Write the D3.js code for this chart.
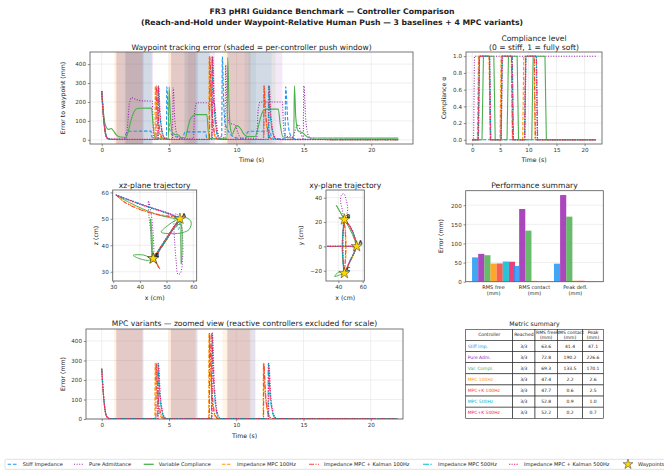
<!DOCTYPE html>
<html>
<head>
<meta charset="utf-8">
<script src="https://d3js.org/d3.v7.min.js"></script>
<style>
body { margin: 0; background: #fff; }
svg text { font-family: "DejaVu Sans", sans-serif; }
</style>
</head>
<body>
<script>
// ---- controllers ----
var names = ["Stiff Impedance", "Pure Admittance", "Variable Compliance", "Impedance MPC 100Hz",
  "Impedance MPC + Kalman 100Hz", "Impedance MPC 500Hz", "Impedance MPC + Kalman 500Hz"];
var shortNames = ["Stiff Imp.", "Pure Adm.", "Var. Compl.", "MPC 100Hz", "MPC+K 100Hz", "MPC 500Hz", "MPC+K 500Hz"];
var colors = ["#2196F3", "#9C27B0", "#4CAF50", "#FF9800", "#F44336", "#00BCD4", "#E91E63"];
var dashes = ["3.5,1.8", "1,1.6", null, "3.5,1.5", "5,1.4,1.2,1.4", "6,1.4,1.4,1.4", "1.2,1.3"];

// ---- tracking error (t s, mm) ----
var errStiff = [[0,258],[0.15,120],[0.3,30],[0.45,8],[0.7,3],[1.7,3],[1.78,30],[1.95,45],[3.65,46],[3.75,10],[3.9,4],[4.8,4],[4.83,280],[4.95,120],[5.1,40],[5.3,22],[5.6,15],[6.0,10],[6.15,38],[6.3,42],[7.7,42],[7.8,8],[8.9,5],[8.95,440],[9.05,200],[9.15,90],[9.3,60],[9.5,35],[9.8,15],[10.2,8],[10.7,8],[10.8,40],[11.0,45],[12.5,45],[12.6,10],[13.6,5],[13.65,280],[13.8,110],[13.95,35],[14.2,10],[14.5,3],[22,2]];
var errPure = [[0,258],[0.15,110],[0.3,25],[0.45,6],[1.8,4],[1.9,60],[2.05,190],[2.2,222],[2.6,212],[3.0,206],[3.75,205],[3.85,10],[4.0,4],[5.25,4],[5.3,275],[5.42,110],[5.55,35],[5.75,10],[6.0,5],[6.8,5],[6.9,150],[7.05,196],[7.9,196],[8.0,150],[8.05,300],[8.2,200],[8.35,195],[8.5,100],[8.7,20],[9.15,10],[9.2,395],[9.3,150],[9.45,90],[9.6,85],[9.9,80],[10.1,40],[10.3,10],[11.5,8],[11.6,150],[11.75,200],[13.4,200],[13.5,60],[13.6,20],[14.2,15],[14.4,60],[14.6,80],[14.75,40],[14.95,8],[15.0,285],[15.15,100],[15.3,30],[15.5,8],[16,3],[22,2]];
var errVar = [[0,258],[0.2,100],[0.35,65],[0.5,55],[0.7,60],[0.85,50],[1.1,25],[1.4,15],[1.8,14],[1.95,40],[2.2,110],[2.45,155],[2.7,167],[3.7,168],[3.8,90],[3.95,12],[4.2,8],[4.95,8],[5.0,280],[5.1,120],[5.25,35],[5.45,28],[5.7,25],[5.9,12],[6.2,10],[6.35,50],[6.55,105],[6.8,128],[7.0,133],[7.8,134],[7.9,50],[8.0,6],[9.3,5],[9.35,435],[9.45,180],[9.55,60],[9.7,30],[9.85,55],[10.05,75],[10.3,60],[10.55,30],[10.8,18],[11.4,18],[11.55,50],[11.8,120],[12.0,155],[12.3,162],[13.1,162],[13.25,80],[13.45,15],[14.25,10],[14.3,285],[14.4,120],[14.55,50],[14.7,42],[14.9,38],[15.1,25],[15.3,14],[15.6,10],[22,9]];
var errMpc100 = [[0,258],[0.12,130],[0.25,45],[0.4,10],[0.6,2],[3.95,2],[3.97,285],[4.1,130],[4.25,45],[4.4,12],[4.6,2],[7.95,2],[7.97,440],[8.1,200],[8.25,70],[8.4,18],[8.6,2],[12.0,2],[12.02,285],[12.15,130],[12.3,45],[12.45,12],[12.65,2],[22,1]];
var errMpcK100 = [[0,258],[0.12,128],[0.25,44],[0.4,10],[0.6,2],[4.03,2],[4.05,285],[4.18,130],[4.33,45],[4.48,12],[4.68,2],[8.0,2],[8.02,440],[8.15,200],[8.3,70],[8.45,18],[8.65,2],[12.03,2],[12.05,285],[12.18,130],[12.33,45],[12.48,12],[12.68,2],[22,1]];
var errMpc500 = [[0,258],[0.12,132],[0.25,46],[0.4,10],[0.6,2],[4.16,2],[4.18,285],[4.31,130],[4.46,45],[4.61,12],[4.81,2],[8.16,2],[8.18,440],[8.31,200],[8.46,70],[8.61,18],[8.81,2],[12.36,2],[12.38,285],[12.51,130],[12.66,45],[12.81,12],[13.0,2],[22,1]];
var errMpcK500 = [[0,258],[0.12,131],[0.25,45],[0.4,10],[0.6,2],[4.19,2],[4.21,285],[4.34,130],[4.49,45],[4.64,12],[4.84,2],[8.2,2],[8.22,440],[8.35,200],[8.5,70],[8.65,18],[8.85,2],[12.4,2],[12.42,285],[12.55,130],[12.7,45],[12.85,12],[13.05,2],[22,1]];

// ---- compliance level alpha ----
var compStiff = [[0,0],[22,0]];
var compPure = [[0,0],[0.25,0],[0.4,1],[22,1]];
var compVar = [[0,0],[1.75,0],[2.0,1],[3.85,1],[4.1,0],[6.2,0],[6.45,1],[8.0,1],[8.25,0],[10.6,0],[10.85,1],[12.95,1],[13.2,0],[22,0]];
var compMpc100 = [[0,0],[0.92,0],[1.12,1],[3.0,1],[3.2,0],[4.95,0],[5.15,1],[6.95,1],[7.15,0],[8.98,0],[9.18,1],[11.0,1],[11.2,0],[22,0]];
var compMpcK100 = [[0,0],[1.05,0],[1.25,1],[3.05,1],[3.25,0],[5.1,0],[5.3,1],[7.0,1],[7.2,0],[9.3,0],[9.5,1],[11.05,1],[11.25,0],[22,0]];
var compMpc500 = [[0,0],[1.1,0],[1.3,1],[3.1,1],[3.3,0],[5.15,0],[5.35,1],[7.15,1],[7.35,0],[9.35,0],[9.55,1],[11.45,1],[11.65,0],[22,0]];
var compMpcK500 = [[0,0],[1.1,0],[1.3,1],[3.1,1],[3.3,0],[5.15,0],[5.35,1],[7.1,1],[7.3,0],[9.35,0],[9.55,1],[11.4,1],[11.6,0],[22,0]];

// ---- push windows (s) ----
var pushStiff = [[1.7,3.7],[6.1,8.0],[10.6,12.6]];
var pushPure = [[1.8,3.8],[6.4,8.4],[11.4,13.4]];
var pushVar = [[1.75,3.75],[6.2,8.0],[10.9,12.9]];
var pushMpc100 = [[0.92,3.0],[4.95,6.95],[8.98,11.0]];
var pushMpcK100 = [[1.05,3.05],[5.1,7.0],[9.3,11.05]];
var pushMpc500 = [[1.1,3.1],[5.15,7.15],[9.35,11.45]];
var pushMpcK500 = [[1.1,3.1],[5.15,7.1],[9.35,11.4]];

// ---- trajectories (cm) ----
var xzStiff = [[31,59],[35,57.5],[40,55.6],[45,53.9],[50,52.1],[53,51],[55,50],[53.8,47],[54.5,46],[55,50],[53,46.8],[50.5,43],[48,39],[46,36],[45,35],[44,33.8],[45.8,34.5],[45,35],[47,38.2],[49.5,42],[52,45.8],[54,48.6],[55,50]];
var xzPure = [[31,59],[35,57.6],[40,55.8],[45,54],[50,52.5],[53,51.3],[55,50],[53.5,52],[52.8,49],[53,42],[53.6,34],[54.3,29],[55.2,29.5],[56,35],[56,43],[55,50],[52.5,46],[50,42],[47.5,38.5],[45,35],[44.3,43],[43.4,51],[43.2,56.8],[44.2,52],[45,44],[45.2,36],[45,35],[47,38],[49.5,42],[52,46],[55,50]];
var xzVar = [[31,59],[36,56.2],[41,53.8],[46,51.8],[51,50.5],[55,50],[57.5,50.4],[59.2,48.8],[58.5,46],[56,44.8],[52,44.4],[48,45],[50.5,47.5],[53.5,49.5],[55,50],[55.3,42],[55.5,33],[55.8,40],[55.2,48],[52.5,46],[50,42],[47.5,38.5],[45,35],[41.5,36.3],[37.5,36.2],[40,34.9],[44,34.6],[44.2,42],[44,50],[44.6,43],[45,35],[47,38],[49.5,42],[52,46],[55,50]];
var xzMpc100 = [[31,59],[34,56.6],[38,54.6],[42,53],[46,51.9],[50,51.2],[53.5,50.8],[55,50],[53,47],[50.5,43],[48,39],[46,36],[45,35],[46.2,33],[47.3,31.3],[46.3,33.5],[45,35],[47,38.2],[49.5,42],[52,45.8],[54,48.6],[55,50]];
var xzMpcK100 = [[31,59],[34,56.4],[38,54.3],[42,52.8],[46,51.7],[50,51],[53.5,50.7],[55,50],[52.8,46.8],[50.3,42.8],[47.8,38.8],[45.8,35.8],[45,35],[46.3,32.8],[47.5,31],[46.2,33.4],[45,35],[46.8,38],[49.3,41.8],[51.8,45.6],[54,48.8],[55,50]];
var xzMpc500 = [[31,59],[35,57.5],[40,55.6],[45,54],[50,52.3],[53,51.1],[55,50],[53,47],[50.5,43.2],[48,39.3],[46,36.2],[45,35],[44,34],[45,35],[47,38],[49.5,41.8],[52,45.6],[54,48.5],[55,50]];
var xzMpcK500 = [[31,59],[35,57.4],[40,55.5],[45,53.8],[50,52.2],[53,51],[55,50],[53.1,47.2],[50.6,43.3],[48.1,39.4],[46.1,36.3],[45,35],[44.2,34.2],[45,35],[47.1,38.1],[49.6,41.9],[52.1,45.7],[54,48.6],[55,50]];

var xyStiff = [[31,0],[40,0],[50,0],[55,0],[53.8,6],[51.8,12],[48.8,17.5],[45,22],[44,14],[43.5,5],[43.5,-5],[44,-14],[45,-22],[47,-18],[50,-11],[53,-5],[55,0]];
var xyPure = [[31,0],[40,0],[50,0],[55,0],[53.8,6],[51.8,12],[48.8,17.5],[45,22],[43.3,30],[41.8,37.5],[42.5,42],[44.5,43.2],[46.5,38],[47.7,31],[46.5,25],[45,22],[44,14],[43.3,5],[43.3,-5],[44,-14],[45,-22],[47,-18],[50,-11],[53,-5],[55,0]];
var xyVar = [[31,0],[40,0],[50,0],[57,0],[55,0],[53.5,5],[51.5,10],[49,15],[46.5,19.5],[45,22],[42,27.5],[38.3,33.8],[40.5,30],[43.5,24.5],[45,22],[44,14],[43.3,5],[43.3,-5],[44,-14],[45,-22],[41,-23.5],[37,-24.8],[40.5,-21],[43.5,-22],[45,-22],[48,-16],[51,-10],[53.5,-4.5],[55,0]];
var xyMpc100 = [[31,0],[40,0],[50,0],[55,0],[53.6,6],[51.5,12],[48.6,17.5],[45,22],[45.8,14],[46.3,5],[46.3,-5],[45.8,-14],[45,-22],[47,-18],[50,-11],[53,-5],[55,0]];
var xyMpcK100 = [[31,0],[40,0],[50,0],[55,0],[53.7,6],[51.6,12],[48.7,17.5],[45,22],[45.5,14],[46,5],[46,-5],[45.5,-14],[45,-22],[47.2,-18],[50.2,-11],[53.1,-5],[55,0]];
var xyMpc500 = [[31,0],[40,0],[50,0],[55,0],[53.9,6],[51.9,12],[48.9,17.5],[45,22],[44,14],[43.6,5],[43.6,-5],[44,-14],[45,-22],[47,-18],[50,-11],[53,-5],[55,0]];
var xyMpcK500 = [[31,0],[40,0],[50,0],[55,0],[53.9,6],[51.9,12],[48.9,17.5],[45,22],[44.2,14],[43.8,5],[43.8,-5],[44.2,-14],[45,-22],[46.9,-18],[49.9,-11],[52.9,-5],[55,0]];

var wpLabel = ["A", "B", "C"];
var wpX = [55, 45, 45];
var wpY = [0, 22, -22];
var wpZ = [50, 35, 35];

// ---- performance metrics ----
var metricNames = ["RMS free\n(mm)", "RMS contact\n(mm)", "Peak defl.\n(mm)"];
var rmsFree = [63.6, 72.8, 69.3, 47.4, 47.7, 52.8, 52.2];
var rmsContact = [41.4, 190.2, 133.5, 2.2, 0.6, 0.9, 0.2];
var peakDefl = [47.1, 226.6, 170.1, 2.6, 2.5, 1.0, 0.7];
var reached = ["3/3", "3/3", "3/3", "3/3", "3/3", "3/3", "3/3"];
var tableHead = ["Controller", "Reached", "RMS free\n(mm)", "RMS contact\n(mm)", "Peak\n(mm)"];

var errSeries = [errStiff, errPure, errVar, errMpc100, errMpcK100, errMpc500, errMpcK500];
var compSeries = [compStiff, compPure, compVar, compMpc100, compMpcK100, compMpc500, compMpcK500];
var pushSeries = [pushStiff, pushPure, pushVar, pushMpc100, pushMpcK100, pushMpc500, pushMpcK500];
var xzSeries = [xzStiff, xzPure, xzVar, xzMpc100, xzMpcK100, xzMpc500, xzMpcK500];
var xySeries = [xyStiff, xyPure, xyVar, xyMpc100, xyMpcK100, xyMpc500, xyMpcK500];

var W = 664, H = 470;
var svg = d3.select("body").append("svg").attr("width", W).attr("height", H);
var defs = svg.append("defs");
var clipN = 0;

function makePanel(box, xDom, yDom, xt, yt, xfmt, yfmt) {
  var x = d3.scaleLinear().domain(xDom).range([box.l, box.r]);
  var y = d3.scaleLinear().domain(yDom).range([box.b, box.t]);
  var g = svg.append("g");
  var id = "clip" + (clipN++);
  defs.append("clipPath").attr("id", id).append("rect")
    .attr("x", box.l).attr("y", box.t).attr("width", box.r - box.l).attr("height", box.b - box.t);
  var grid = g.append("g");
  if (xt) xt.forEach(function(v) {
    grid.append("line").attr("x1", x(v)).attr("x2", x(v)).attr("y1", box.t).attr("y2", box.b)
      .attr("stroke", "#e4e4e4").attr("stroke-width", 0.6);
  });
  yt.forEach(function(v) {
    grid.append("line").attr("y1", y(v)).attr("y2", y(v)).attr("x1", box.l).attr("x2", box.r)
      .attr("stroke", "#e4e4e4").attr("stroke-width", 0.6);
  });
  var plot = g.append("g").attr("clip-path", "url(#" + id + ")");
  if (xt) {
    var ax = g.append("g").attr("transform", "translate(0," + box.b + ")")
      .call(d3.axisBottom(x).tickValues(xt).tickFormat(xfmt || d3.format("d")).tickSize(2.2).tickPadding(1.8));
    styleAxis(ax);
  }
  var ay = g.append("g").attr("transform", "translate(" + box.l + ",0)")
    .call(d3.axisLeft(y).tickValues(yt).tickFormat(yfmt || d3.format("d")).tickSize(2.2).tickPadding(1.8));
  styleAxis(ay);
  g.append("rect").attr("x", box.l).attr("y", box.t).attr("width", box.r - box.l).attr("height", box.b - box.t)
    .attr("fill", "none").attr("stroke", "#555").attr("stroke-width", 0.8);
  return {x: x, y: y, g: g, plot: plot, box: box};
}

function styleAxis(a) {
  a.select(".domain").remove();
  a.selectAll("line").attr("stroke", "#444").attr("stroke-width", 0.6);
  a.selectAll("text").attr("font-size", 5.6).style("fill", "#333").attr("font-family", "DejaVu Sans");
}

function label(txt, x, y, size, opts) {
  opts = opts || {};
  var t = svg.append("text").attr("x", x).attr("y", y).attr("font-size", size)
    .attr("text-anchor", opts.anchor || "middle").style("fill", opts.fill || "#222").text(txt);
  if (opts.bold) t.attr("font-weight", "bold");
  if (opts.rot) t.attr("transform", "rotate(-90," + x + "," + y + ")");
  return t;
}

function drawLines(p, series, idx, curve, width) {
  idx.forEach(function(i) {
    var line = d3.line().x(function(d) { return p.x(d[0]); }).y(function(d) { return p.y(d[1]); }).curve(curve);
    var path = p.plot.append("path").attr("d", line(series[i])).attr("fill", "none")
      .attr("stroke", colors[i]).attr("stroke-width", width).attr("stroke-linejoin", "round");
    if (dashes[i]) path.attr("stroke-dasharray", dashes[i]);
    if (i === 6) path.attr("stroke-width", width * 1.2);
  });
}

function drawShade(p, idx) {
  idx.forEach(function(i) {
    pushSeries[i].forEach(function(w) {
      p.plot.append("rect").attr("x", p.x(w[0])).attr("width", p.x(w[1]) - p.x(w[0]))
        .attr("y", p.box.t).attr("height", p.box.b - p.box.t)
        .attr("fill", colors[i]).attr("fill-opacity", 0.1);
    });
  });
}

var all = [0, 1, 2, 3, 4, 5, 6];
var mpc = [3, 4, 5, 6];
var timeTicks = [0, 5, 10, 15, 20];

// ---- suptitle ----
label("FR3 pHRI Guidance Benchmark \u2014 Controller Comparison", 332, 14, 7.7, {bold: true});
label("(Reach-and-Hold under Waypoint-Relative Human Push \u2014 3 baselines + 4 MPC variants)", 332, 25, 7.7, {bold: true});

// ---- tracking error ----
var p1 = makePanel({l: 90, r: 413, t: 52, b: 144}, [-0.87, 23.1], [-22, 464], timeTicks, [0, 100, 200, 300, 400]);
drawShade(p1, all);
drawLines(p1, errSeries, all, d3.curveMonotoneX, 1.1);
label("Waypoint tracking error (shaded = per-controller push window)", 251.5, 49.5, 7.6);
label("Time (s)", 251.5, 162, 6.2);
label("Error to waypoint (mm)", 65, 98, 6.2, {rot: true});

// ---- compliance ----
var p2 = makePanel({l: 466, r: 602, t: 52, b: 144}, [-1.1, 23.1], [-0.05, 1.05], timeTicks, [0, 0.2, 0.4, 0.6, 0.8, 1.0], d3.format("d"), d3.format(".1f"));
drawLines(p2, compSeries, all, d3.curveLinear, 1.1);
label("Compliance level", 534, 40.5, 7.6);
label("(0 = stiff, 1 = fully soft)", 534, 49.5, 7.6);
label("Time (s)", 534, 162, 6.2);
label("Compliance \u03b1", 446, 98, 6.2, {rot: true});

// ---- xz plane ----
var p3 = makePanel({l: 112.7, r: 196.7, t: 190, b: 281}, [29.8, 61.3], [26.5, 60.9], [30, 40, 50, 60], [30, 40, 50, 60]);
drawLines(p3, xzSeries, all, d3.curveCatmullRom, 1.0);
label("xz-plane trajectory", 154.7, 187.5, 7.6);
label("x (cm)", 154.7, 299.5, 6.2);
label("z (cm)", 97.5, 235.5, 6.2, {rot: true});

// ---- xy plane ----
var p4 = makePanel({l: 326, r: 364.3, t: 190, b: 281}, [29.9, 61.3], [-28.4, 46.3], [40, 60], [-20, 0, 20, 40]);
drawLines(p4, xySeries, all, d3.curveCatmullRom, 1.0);
label("xy-plane trajectory", 345.2, 187.5, 7.6);
label("x (cm)", 345.2, 299.5, 6.2);
label("y (cm)", 303, 235.5, 6.2, {rot: true});

var star = d3.symbol().type(d3.symbolStar).size(38);
function drawWaypoints(p, xs, ys) {
  xs.forEach(function(v, i) {
    p.g.append("path").attr("d", star).attr("transform", "translate(" + p.x(v) + "," + p.y(ys[i]) + ")")
      .attr("fill", "#FFD700").attr("stroke", "#333").attr("stroke-width", 0.5);
    p.g.append("text").attr("x", p.x(v) + 2).attr("y", p.y(ys[i]) - 2).attr("font-size", 5)
      .attr("font-weight", "bold").style("fill", "#222").text(wpLabel[i]);
  });
}
drawWaypoints(p3, wpX, wpZ);
drawWaypoints(p4, wpX, wpY);

// ---- performance summary ----
var p5 = makePanel({l: 465.7, r: 603.3, t: 190.7, b: 281.7}, [-0.68, 2.68], [0, 238], null, [0, 50, 100, 150, 200]);
var metrics = [rmsFree, rmsContact, peakDefl];
var bw = 0.15;
metrics.forEach(function(vals, c) {
  vals.forEach(function(v, i) {
    var x0 = c + (i - 3) * bw - bw / 2;
    p5.plot.append("rect").attr("x", p5.x(x0)).attr("width", p5.x(x0 + bw) - p5.x(x0))
      .attr("y", p5.y(v)).attr("height", p5.y(0) - p5.y(v))
      .attr("fill", colors[i]).attr("fill-opacity", 0.85);
  });
  metricNames[c].split("\n").forEach(function(s, k) {
    label(s, p5.x(c), 289 + k * 6.2, 5.0);
  });
});
label("Performance summary", 534.5, 187.5, 7.6);
label("Error (mm)", 443, 236, 6.2, {rot: true});

// ---- MPC zoomed ----
var p6 = makePanel({l: 86, r: 403, t: 329, b: 419}, [-1.17, 22.4], [0, 461.5], timeTicks, [0, 100, 200, 300, 400]);
drawShade(p6, mpc);
drawLines(p6, errSeries, mpc, d3.curveMonotoneX, 1.1);
label("MPC variants \u2014 zoomed view (reactive controllers excluded for scale)", 244.5, 325.5, 7.6);
label("Time (s)", 244.5, 438, 6.2);
label("Error (mm)", 65, 374, 6.2, {rot: true});

// ---- metric table ----
label("Metric summary", 534.5, 325.5, 6.2);
var colX = [465.7, 512.7, 535, 557.3, 582.7, 603.3];
var rowY = d3.range(9).map(function(k) { return 329.3 + k * 11.125; });
var tg = svg.append("g");
var rows = [tableHead].concat(shortNames.map(function(n, i) {
  return [n, reached[i], rmsFree[i].toFixed(1), rmsContact[i].toFixed(1), peakDefl[i].toFixed(1)];
}));
rows.forEach(function(r, ri) {
  r.forEach(function(cell, ci) {
    tg.append("rect").attr("x", colX[ci]).attr("y", rowY[ri]).attr("width", colX[ci + 1] - colX[ci])
      .attr("height", rowY[ri + 1] - rowY[ri]).attr("fill", "#fff").attr("stroke", "#222").attr("stroke-width", 0.6);
  });
});
rows.forEach(function(r, ri) {
  r.forEach(function(cell, ci) {
    var lines = cell.split("\n");
    var cy = (rowY[ri] + rowY[ri + 1]) / 2;
    lines.forEach(function(s, k) {
      var yy = cy + 1.6 + (k - (lines.length - 1) / 2) * 4.6;
      var t = tg.append("text").attr("y", yy).attr("font-size", 4.5).style("fill", "#222").text(s);
      if (ci === 0 && ri > 0) {
        t.attr("x", colX[0] + 2).style("fill", colors[ri - 1]);
      } else {
        t.attr("x", (colX[ci] + colX[ci + 1]) / 2).attr("text-anchor", "middle");
      }
    });
  });
});

// ---- legend (text start of each column) ----
var legendX = [22.7, 89, 158.7, 237, 324, 438, 524, 638];
var lg = svg.append("g");
lg.append("rect").attr("x", 5).attr("y", 459.3).attr("width", 700).attr("height", 10)
  .attr("fill", "#fff").attr("stroke", "#ccc").attr("stroke-width", 0.6).attr("rx", 1);
var ly = 464.3;
names.forEach(function(n, i) {
  var lx = legendX[i];
  var l = lg.append("line").attr("x1", lx - 15).attr("x2", lx - 5).attr("y1", ly).attr("y2", ly)
    .attr("stroke", colors[i]).attr("stroke-width", i === 2 ? 1.3 : 1.1);
  if (dashes[i]) l.attr("stroke-dasharray", dashes[i]);
  lg.append("text").attr("x", lx).attr("y", ly + 1.8).attr("font-size", 5.1)
    .style("fill", "#222").text(n);
});
lg.append("path").attr("d", d3.symbol().type(d3.symbolStar).size(30)).attr("transform", "translate(" + (legendX[7] - 10) + "," + ly + ")")
  .attr("fill", "#FFD700").attr("stroke", "#333").attr("stroke-width", 0.5);
lg.append("text").attr("x", legendX[7]).attr("y", ly + 1.8).attr("font-size", 5.1).style("fill", "#222").text("Waypoints");
</script>
</body>
</html>
